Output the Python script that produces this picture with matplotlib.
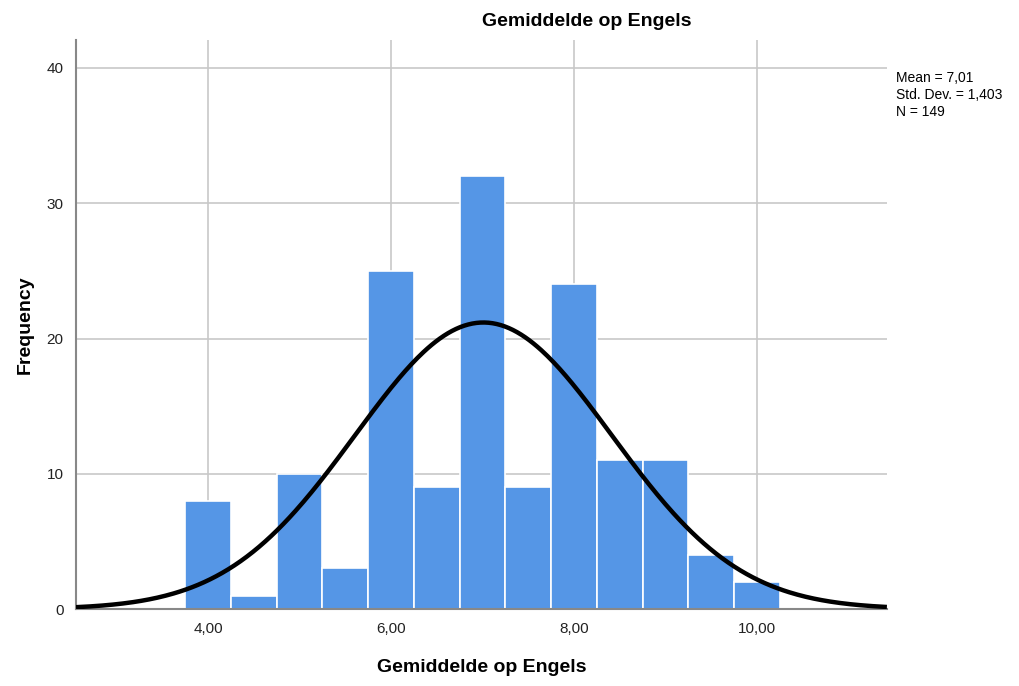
import numpy as np
import matplotlib
matplotlib.use('Agg')
import matplotlib.pyplot as plt

# histogram bins (width 0.5) and counts
bin_edges = [3.75, 4.25, 4.75, 5.25, 5.75, 6.25, 6.75, 7.25, 7.75, 8.25, 8.75, 9.25, 9.75, 10.25]
counts = [8, 1, 10, 3, 25, 9, 32, 9, 24, 11, 11, 4, 2]
mean = 7.01
std = 1.403
n = 149
x_ticks = [4, 6, 8, 10]
x_labels = ['4,00', '6,00', '8,00', '10,00']
y_ticks = [0, 10, 20, 30, 40]

plt.rcParams['font.family'] = ['Liberation Sans', 'DejaVu Sans']

fig = plt.figure(figsize=(10.2, 6.86), dpi=100)
ax = fig.add_axes([0.0745, 0.1122, 0.795, 0.8295])

lefts = np.array(bin_edges[:-1])
widths = np.diff(bin_edges)
ax.bar(lefts, counts, width=widths, align='edge', color='#5596e6',
       edgecolor='white', linewidth=1.2, zorder=2)

# normal curve scaled to the histogram
xs = np.linspace(2.557, 11.42, 400)
bw = widths[0]
ys = n * bw / (std * np.sqrt(2 * np.pi)) * np.exp(-0.5 * ((xs - mean) / std) ** 2)
ax.plot(xs, ys, color='black', linewidth=3.2, zorder=3, solid_capstyle='butt')

ax.set_xlim(2.557, 11.42)
ax.set_ylim(0, 42.07)
ax.set_xticks(x_ticks)
ax.set_xticklabels(x_labels)
ax.set_yticks(y_ticks)
ax.tick_params(length=0, labelsize=11, colors='#222222', pad=9)
ax.grid(True, color='#c8c8c8', linewidth=1.2, zorder=0)
ax.set_axisbelow(True)

for side in ['top', 'right']:
    ax.spines[side].set_visible(False)
ax.spines['left'].set_color('#888888')
ax.spines['bottom'].set_color('#888888')
ax.spines['left'].set_linewidth(1.5)
ax.spines['bottom'].set_linewidth(1.5)

fig.text(0.5755, 0.968, 'Gemiddelde op Engels', fontsize=14, fontweight='bold',
         ha='center', va='center')
ax.set_xlabel('Gemiddelde op Engels', fontsize=14, fontweight='bold', labelpad=17)
ax.set_ylabel('Frequency', fontsize=14, fontweight='bold', labelpad=9)

fig.text(0.8785, 0.896, 'Mean = 7,01\nStd. Dev. = 1,403\nN = 149',
         fontsize=10, va='top', ha='left', linespacing=1.25)

fig.savefig('out.png', dpi=100, facecolor='white')
